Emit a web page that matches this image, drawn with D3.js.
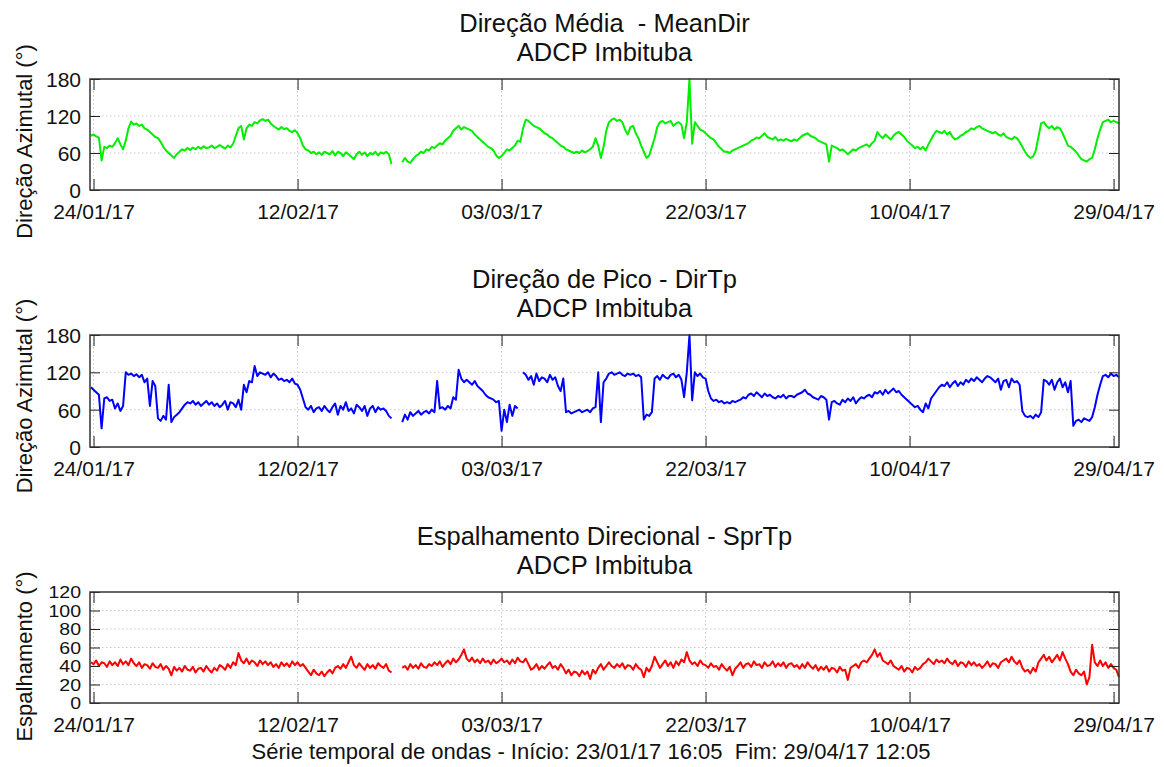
<!DOCTYPE html>
<html><head><meta charset="utf-8">
<script src="https://cdn.jsdelivr.net/npm/d3@7"></script>
<style>
body{margin:0;background:#fff}
text{font-family:"Liberation Sans",Arial,sans-serif;fill:#111;white-space:pre}
</style>
</head><body>
<svg id="c" width="1164" height="767"></svg>
<script>
// ---- data (one value every 6 h, starting 23/01/17 18:00; null = no data) ----
const sampleStart = "2017-01-23T18:00:00Z";
const sampleStepHours = 6;
const meanDir = [88,
90,87,85,48, 70,68,72,70, 76,84,74,66, 80,100,111,106, 108,104,106,100, 98,94,90,86, 84,78,70,64, 60,56,52,58,
62,66,64,68, 65,69,66,70, 67,71,68,69, 72,68,70,73, 70,67,72,69, 75,88,100,104, 82,100,106,104, 110,108,113,115,
112,114,108,104, 101,98,102,99, 100,96,94,97, 92,84,72,66, 64,60,62,58, 61,57,62,60, 58,63,56,62, 60,55,61,58,
54,50,58,62, 57,61,55,60, 58,62,56,61, 59,62,58,42, null,null,null,45, 52,46,44,50, 55,58,62,60, 66,64,70,68,
72,76,74,80, 84,88,96,100, 104,98,102,100, 98,96,90,86, 82,78,74,70, 68,64,56,52, 55,60,66,64, 68,72,80,78,
100,114,112,108, 104,102,100,96, 92,90,86,84, 80,76,72,70, 66,64,62,60, 62,60,64,61, 63,66,70,84, 72,52,70,96,
110,114,116,112, 114,110,98,90, 102,104,92,84, 72,62,52,56, 70,84,102,110, 112,108,110,112, 104,108,110,106, 84,110,180,75,
110,104,98,96, 92,88,84,82, 76,70,66,62, 62,60,64,66, 68,70,72,74, 76,80,82,85, 84,88,92,86, 84,82,86,80,
82,80,83,81, 79,82,80,84, 88,90,92,88, 86,84,80,78, 76,74,46,72, 70,68,64,66, 62,58,62,66, 64,68,70,72,
74,70,76,80, 94,88,84,90, 86,82,88,92, 94,90,86,80, 76,72,68,70, 66,70,64,74, 82,90,96,94, 92,96,90,94,
86,82,84,88, 90,94,96,100, 98,102,104,100, 98,96,94,92, 94,90,88,92, 86,84,82,86, 84,78,70,62, 56,52,54,64,
86,108,110,104, 100,104,98,102, 100,92,82,72, 70,66,62,56, 50,48,46,50, 52,66,84,98, 110,112,114,110, 112,110,108];

const dirTp = [96,
92,88,84,30, 78,80,74,76, 62,70,58,66, 120,116,118,114, 117,112,116,104, 110,66,106,98, 46,42,50,44, 100,40,48,52,
56,62,68,72, 70,74,68,72, 66,70,74,68, 72,66,70,64, 68,74,60,72, 70,64,76,60, 100,88,106,104, 130,114,120,118,
116,120,112,118, 114,108,110,106, 108,104,110,102, 100,92,78,64, 60,66,56,62, 64,58,66,60, 56,64,70,52, 66,60,72,58,
62,54,68,64, 58,66,50,62, 66,56,64,60, 62,58,50,46, null,null,null,40, 52,44,56,50, 54,58,52,56, 58,54,60,56,
106,62,64,60, 66,62,80,76, 124,110,104,108, 104,100,106,98, 94,90,84,80, 78,76,72,74, 26,60,40,68, 50,66,62,null,
120,116,108,114, 100,118,106,112, 110,104,116,108, 112,98,90,110, 56,58,54,56, 58,60,56,58, 60,56,62,64, 120,40,104,110,
118,120,116,118, 120,116,114,118, 116,118,114,116, 112,44,52,50, 56,110,114,108, 116,112,110,116, 118,112,116,108, 80,120,180,75,
120,114,118,112, 110,90,78,74, 76,72,74,70, 72,70,74,72, 74,76,80,78, 84,86,82,88, 84,80,86,82, 84,80,78,82,
80,84,78,82, 82,80,84,86, 88,92,86,84, 80,78,76,82, 80,76,44,72, 74,70,68,76, 72,78,74,80, 70,76,80,78,
82,84,80,88, 86,90,84,92, 86,90,94,88, 90,84,80,76, 72,68,64,66, 60,56,70,62, 78,84,90,96, 100,98,104,96,
102,106,98,104, 100,108,104,110, 106,112,108,104, 110,114,112,108, 104,110,92,106, 108,96,110,104, 106,100,58,50, 48,50,46,52,
48,56,108,106, 100,108,92,104, 110,96,104,88, 106,34,42,44, 40,46,44,42, 48,64,84,100, 114,116,112,118, 114,116,112];

const sprTp = [44,
42,46,40,44, 43,39,45,41, 44,40,47,42, 45,41,48,43, 40,44,38,42, 41,37,43,39, 38,42,36,40, 37,30,39,35,
38,34,40,36, 35,39,33,37, 38,34,40,36, 33,38,35,41, 39,36,42,38, 44,41,54,46, 43,48,42,46, 44,40,46,42,
45,41,44,39, 42,38,44,40, 43,39,45,41, 44,40,42,38, 34,30,36,32, 30,34,29,33, 36,32,38,40, 37,42,38,44,
50,41,38,43, 39,36,42,38, 41,37,43,40, 38,42,35,33, null,null,null,38, 40,36,42,38, 41,37,43,39, 38,42,40,44,
41,45,39,43, 46,42,48,44, 47,52,58,48, 45,49,44,47, 43,48,44,46, 42,47,43,45, 48,44,46,42, 47,43,49,45,
44,48,42,36, 38,42,36,40, 37,41,44,38, 40,36,42,38, 32,36,30,34, 33,29,35,31, 34,26,36,32, 38,42,36,40,
44,40,38,42, 39,43,37,41, 40,36,42,38, 36,28,38,34, 40,50,44,38, 42,46,40,44, 38,45,41,47, 44,55,46,42,
44,40,46,42, 41,38,43,39, 40,36,42,38, 35,39,30,37, 40,44,38,42, 43,39,45,41, 42,38,44,40, 41,45,39,43,
40,44,38,42, 43,39,41,37, 42,38,44,40, 37,41,35,39, 36,40,34,38, 37,33,39,35, 36,25,38,40, 42,38,44,46,
44,48,52,58, 50,54,46,44, 42,46,40,38, 36,40,34,38, 37,33,39,36, 38,42,44,48, 45,42,47,44, 46,43,48,44,
42,46,40,44, 43,39,45,41, 44,40,42,38, 41,45,39,43, 42,38,44,46, 48,44,50,45, 42,46,38,34, 36,32,38,34,
44,48,52,46, 50,44,48,52, 46,55,48,42, 34,30,36,32, 30,34,20,28, 63,44,40,46, 40,44,38,42, 38,36,28];

const xTickLabels = ["24/01/17","12/02/17","03/03/17","22/03/17","10/04/17","29/04/17"];
const dirTicks = [0,60,120,180];
const sprTicks = [0,20,40,60,80,100,120];
const timeDomain = ["2017-01-23T16:05:00Z","2017-04-29T12:05:00Z"];
const footer = "Série temporal de ondas - Início: 23/01/17 16:05  Fim: 29/04/17 12:05";

// ---- drawing ----
const svg = d3.select("#c");
const parseTick = d3.utcParse("%d/%m/%y");
const fmtTick = d3.utcFormat("%d/%m/%y");
const t0 = new Date(sampleStart).getTime();
const toSeries = arr => arr.map((v,i)=>({t:new Date(t0 + i*sampleStepHours*3600e3), v}));

const L = 90, R = 1119;
const x = d3.scaleUtc().domain(timeDomain.map(s=>new Date(s))).range([L, R]);
const tickDates = xTickLabels.map(parseTick);

const panels = [
  {data: meanDir, color:"#00ee00", top:79, bottom:190, ticks:dirTicks, max:180, yfs:21, ysx:1,
   t1:"Direção Média  - MeanDir", t2:"ADCP Imbituba", ylab:"Direção Azimutal (°)", ylabOff:7},
  {data: dirTp, color:"#0000ff", top:335, bottom:447, ticks:dirTicks, max:180, yfs:21, ysx:1,
   t1:"Direção de Pico - DirTp", t2:"ADCP Imbituba", ylab:"Direção Azimutal (°)", ylabOff:5},
  {data: sprTp, color:"#ff0000", top:592, bottom:703, ticks:sprTicks, max:120, yfs:16, ysx:1.22,
   t1:"Espalhamento Direcional - SprTp", t2:"ADCP Imbituba", ylab:"Espalhamento (°)", ylabOff:9}
];

panels.forEach(p=>{
  const y = d3.scaleLinear().domain([0,p.max]).range([p.bottom,p.top]);
  const g = svg.append("g");
  // grid
  g.selectAll(".hg").data(p.ticks.filter(v=>v>0 && v<p.max)).enter().append("line")
    .attr("x1",L).attr("x2",R).attr("y1",d=>y(d)).attr("y2",d=>y(d))
    .attr("stroke","#bbb").attr("stroke-width",0.8).attr("stroke-dasharray","1.5,2.5");
  g.selectAll(".vg").data(tickDates).enter().append("line")
    .attr("x1",d=>x(d)).attr("x2",d=>x(d)).attr("y1",p.top).attr("y2",p.bottom)
    .attr("stroke","#bbb").attr("stroke-width",0.8).attr("stroke-dasharray","1.5,2.5");
  // data line
  const line = d3.line().defined(d=>d.v!=null).x(d=>x(d.t)).y(d=>y(d.v));
  g.append("path").datum(toSeries(p.data)).attr("d",line)
    .attr("fill","none").attr("stroke",p.color).attr("stroke-width",2).attr("stroke-linejoin","round");
  // axes (inner ticks, MATLAB style)
  const axL = d3.axisLeft(y).tickValues(p.ticks).tickSize(-10).tickPadding(9).tickFormat(d3.format("d"));
  const axR = d3.axisRight(y).tickValues(p.ticks).tickSize(-10).tickFormat("");
  const axB = d3.axisBottom(x).tickValues(tickDates).tickSize(-11).tickPadding(14).tickFormat(fmtTick);
  const axT = d3.axisTop(x).tickValues(tickDates).tickSize(-11).tickFormat("");
  const gl = g.append("g").attr("transform",`translate(${L},0)`).call(axL);
  const gr = g.append("g").attr("transform",`translate(${R},0)`).call(axR);
  const gb = g.append("g").attr("transform",`translate(0,${p.bottom})`).call(axB);
  const gt = g.append("g").attr("transform",`translate(0,${p.top})`).call(axT);
  [gl,gr,gb,gt].forEach(a=>{
    a.select(".domain").remove();
    a.selectAll(".tick line").attr("stroke","#222").attr("stroke-width",1);
    a.selectAll("text").attr("font-size",21).attr("fill","#111")
      .attr("font-family","'Liberation Sans',Arial,sans-serif");
  });
  gl.selectAll("text").attr("font-size",p.yfs).attr("dy","0.36em")
    .attr("x",-9/p.ysx).attr("transform",`scale(${p.ysx},1)`);
  // box
  g.append("rect").attr("x",L).attr("y",p.top).attr("width",R-L).attr("height",p.bottom-p.top)
    .attr("fill","none").attr("stroke","#333").attr("stroke-width",1.5);
  // titles
  g.append("text").attr("x",(L+R)/2).attr("y",p.top-47).attr("text-anchor","middle").attr("font-size",25.5).text(p.t1);
  g.append("text").attr("x",(L+R)/2).attr("y",p.top-18).attr("text-anchor","middle").attr("font-size",25.5).text(p.t2);
  // y label
  const cy = (p.top+p.bottom)/2 + p.ylabOff;
  g.append("text").attr("transform",`translate(32,${cy}) rotate(-90)`).attr("text-anchor","middle")
    .attr("font-size",22).text(p.ylab);
});

svg.append("text").attr("x",591).attr("y",759).attr("text-anchor","middle").attr("font-size",22).text(footer);
</script>
</body></html>
